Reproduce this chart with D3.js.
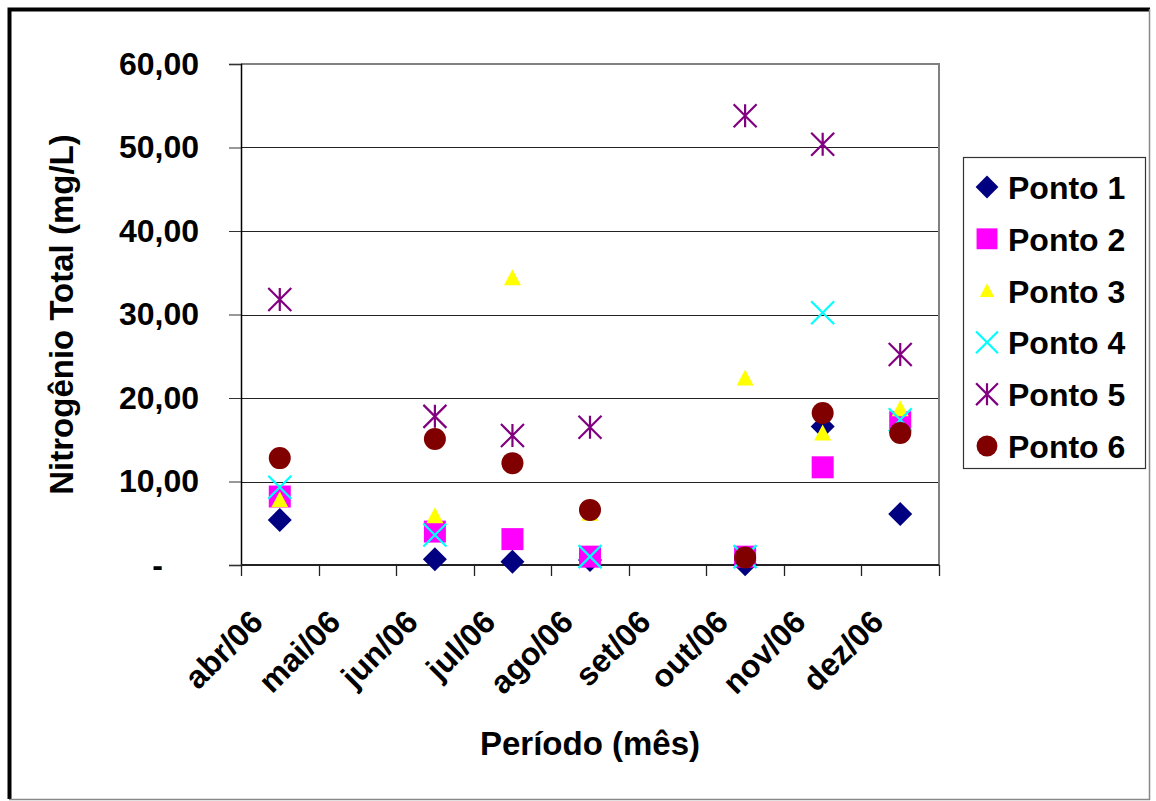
<!DOCTYPE html>
<html>
<head>
<meta charset="utf-8">
<script src="https://cdn.jsdelivr.net/npm/d3@7"></script>
<style>
  body { margin: 0; background: #fff; }
  svg { display: block; }
  text { font-family: "Liberation Sans", Arial, sans-serif; font-weight: bold; fill: #000; }
</style>
</head>
<body>
<svg id="chart" width="1156" height="801"></svg>
<script>
// Monthly total nitrogen (mg/L) at six sampling points, 2006
const months = ["abr/06", "mai/06", "jun/06", "jul/06", "ago/06", "set/06", "out/06", "nov/06", "dez/06"];
const ponto1 = [5.4, null, 0.7, 0.4, 0.6, null, 0.1, 16.6, 6.1];
const ponto2 = [8.2, null, 4.0, 3.1, 1.0, null, 1.0, 11.7, 17.1];
const ponto3 = [7.8, null, 5.9, 34.4, 6.2, null, 22.4, 15.8, 18.7];
const ponto4 = [9.3, null, 3.6, null, 1.0, null, 1.0, 30.2, 17.4];
const ponto5 = [31.8, null, 17.8, 15.5, 16.5, null, 53.8, 50.4, 25.2];
const ponto6 = [12.8, null, 15.1, 12.2, 6.6, null, 0.9, 18.2, 15.8];
const seriesNames = ["Ponto 1", "Ponto 2", "Ponto 3", "Ponto 4", "Ponto 5", "Ponto 6"];
const yTicks = [0, 10, 20, 30, 40, 50, 60];

const seriesValues = [ponto1, ponto2, ponto3, ponto4, ponto5, ponto6];
const seriesStyle = [
  { shape: "diamond", color: "#000080" },
  { shape: "square", color: "#FF00FF" },
  { shape: "triangle", color: "#FFFF00" },
  { shape: "cross", color: "#00FFFF" },
  { shape: "star", color: "#800080" },
  { shape: "circle", color: "#800000" }
];

const svg = d3.select("#chart");
const W = 1156, H = 801;
const plot = { left: 241, right: 939, top: 64, bottom: 565 };

// outer chart frame
svg.append("rect").attr("x", 0).attr("y", 0).attr("width", W).attr("height", H).attr("fill", "#fff");
svg.append("path")
  .attr("d", `M9.5,${H - 2} V9.5 H${W - 6}`)
  .attr("fill", "none").attr("stroke", "#000").attr("stroke-width", 4);
svg.append("path")
  .attr("d", `M9,${H - 1.5} H${W - 6} M${W - 6.5},9 V${H - 1}`)
  .attr("fill", "none").attr("stroke", "#888").attr("stroke-width", 1.5);

const x = d3.scaleBand().domain(months).range([plot.left, plot.right]).paddingInner(0).paddingOuter(0);
const y = d3.scaleLinear().domain([0, 60]).range([plot.bottom, plot.top]);

const ptBR = d3.formatLocale({ decimal: ",", thousands: ".", grouping: [3], currency: ["R$", ""] });
const fmt = ptBR.format(",.2f");

// horizontal gridlines
svg.append("g").selectAll("line")
  .data(yTicks.filter(t => t > 0 && t < 60))
  .join("line")
  .attr("x1", plot.left).attr("x2", plot.right)
  .attr("y1", d => Math.round(y(d)) + 0.5).attr("y2", d => Math.round(y(d)) + 0.5)
  .attr("stroke", "#222").attr("stroke-width", 1.2);

// plot frame: top and right in grey
svg.append("path")
  .attr("d", `M${plot.left},${plot.top} H${plot.right} V${plot.bottom}`)
  .attr("fill", "none").attr("stroke", "#808080").attr("stroke-width", 2);

// y axis
const yAxis = svg.append("g")
  .attr("transform", `translate(${plot.left},0)`)
  .call(d3.axisLeft(y).tickValues(yTicks).tickSize(12).tickPadding(30)
    .tickFormat(d => d === 0 ? "-" : fmt(d)));
yAxis.select(".domain").attr("stroke", "#000").attr("stroke-width", 1.5);
yAxis.selectAll(".tick line").attr("stroke", "#333").attr("stroke-width", 1);
yAxis.selectAll(".tick text")
  .attr("font-size", 32).attr("fill", "#000")
  .attr("font-family", '"Liberation Sans", Arial, sans-serif').attr("font-weight", "bold")
  .attr("dx", d => d === 0 ? -36 : 0);

// x axis: ticks on band boundaries
const xAxisG = svg.append("g").attr("transform", `translate(0,${plot.bottom})`);
xAxisG.append("line")
  .attr("x1", plot.left).attr("x2", plot.right).attr("y1", 0).attr("y2", 0)
  .attr("stroke", "#222").attr("stroke-width", 2);
const boundaries = months.map(m => x(m)).concat([x(months[months.length - 1]) + x.bandwidth()]);
xAxisG.selectAll("line.tk").data(boundaries).join("line").attr("class", "tk")
  .attr("x1", d => Math.round(d) + 0.5).attr("x2", d => Math.round(d) + 0.5)
  .attr("y1", 0).attr("y2", 11).attr("stroke", "#222").attr("stroke-width", 1.3);
xAxisG.selectAll("text").data(months).join("text")
  .attr("transform", d => `translate(${x(d) + x.bandwidth() / 2 - 15},59) rotate(-45)`)
  .attr("text-anchor", "end")
  .attr("font-size", 32)
  .text(d => d);

// axis titles
svg.append("text")
  .attr("transform", `translate(73,${(plot.top + plot.bottom) / 2}) rotate(-90)`)
  .attr("text-anchor", "middle").attr("font-size", 33)
  .text("Nitrogênio Total (mg/L)");
svg.append("text")
  .attr("x", (plot.left + plot.right) / 2).attr("y", 755)
  .attr("text-anchor", "middle").attr("font-size", 33)
  .text("Período (mês)");

// marker drawing
function markerPath(shape, k) {
  const p = d3.path();
  if (shape === "diamond") {
    const r = 12 * k;
    p.moveTo(0, -r); p.lineTo(r, 0); p.lineTo(0, r); p.lineTo(-r, 0); p.closePath();
  } else if (shape === "square") {
    const r = 11 * k;
    p.rect(-r, -r, 2 * r, 2 * r);
  } else if (shape === "triangle") {
    const w = 8.5 * k, h = 15 * k;
    p.moveTo(0, -h / 2 - 1); p.lineTo(w, h / 2); p.lineTo(-w, h / 2); p.closePath();
  } else if (shape === "cross") {
    const r = 11.5 * k;
    p.moveTo(-r, -r); p.lineTo(r, r); p.moveTo(r, -r); p.lineTo(-r, r);
  } else if (shape === "star") {
    const r = 11.5 * k;
    p.moveTo(-r, -r); p.lineTo(r, r); p.moveTo(r, -r); p.lineTo(-r, r);
    p.moveTo(0, -r); p.lineTo(0, r);
  } else if (shape === "circle") {
    const r = 11 * k;
    p.arc(0, 0, r, 0, 2 * Math.PI);
  }
  return p.toString();
}
function styleMarker(sel, st) {
  const stroked = st.shape === "cross" || st.shape === "star";
  sel.attr("fill", stroked ? "none" : st.color)
    .attr("stroke", stroked ? st.color : "none")
    .attr("stroke-width", stroked ? 2.2 : 0);
}

const marks = svg.append("g");
seriesValues.forEach((vals, i) => {
  const st = seriesStyle[i];
  const pts = months.map((m, j) => ({ m, v: vals[j] })).filter(d => d.v !== null);
  marks.append("g").selectAll("path").data(pts).join("path")
    .attr("transform", d => `translate(${x(d.m) + x.bandwidth() / 2},${y(d.v)})`)
    .attr("d", markerPath(st.shape, 1))
    .call(styleMarker, st);
});

// legend
const legend = svg.append("g");
legend.append("rect")
  .attr("x", 963.5).attr("y", 157.5).attr("width", 182).attr("height", 311)
  .attr("fill", "#fff").attr("stroke", "#333").attr("stroke-width", 1.2);
const rowY = d3.scalePoint().domain(seriesNames).range([187, 446]);
seriesNames.forEach((name, i) => {
  const st = seriesStyle[i];
  const g = legend.append("g").attr("transform", `translate(0,${rowY(name)})`);
  g.append("path")
    .attr("transform", "translate(987,0)")
    .attr("d", markerPath(st.shape, st.shape === "triangle" ? 0.85 : 0.95))
    .call(styleMarker, st);
  g.append("text").attr("x", 1008).attr("y", 12).attr("font-size", 32).text(name);
});
</script>
</body>
</html>
